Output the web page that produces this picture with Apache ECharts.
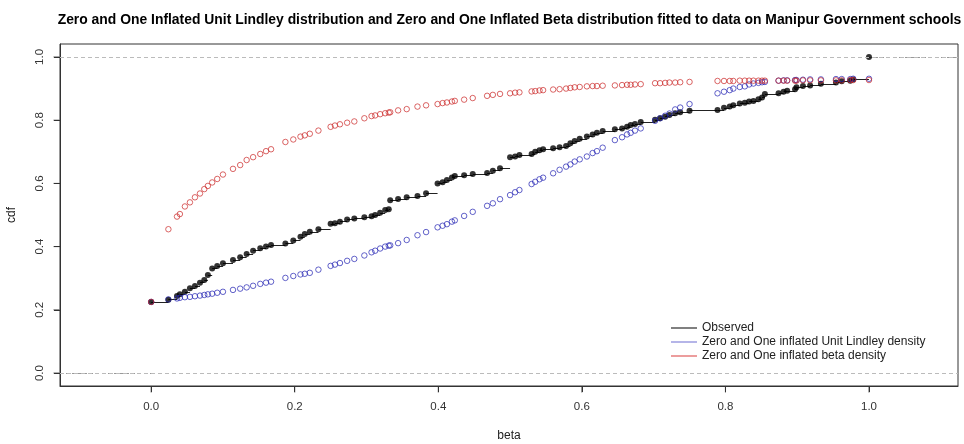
<!DOCTYPE html>
<html><head><meta charset="utf-8">
<script src="https://cdn.jsdelivr.net/npm/echarts@6/dist/echarts.min.js"></script>
<style>html,body{margin:0;padding:0;background:#fff}#c{width:964px;height:444px}</style>
</head><body><div id="c"></div>
<script>
// Observed data points (unique values of beta) and their ECDF values
var obsX = [0, 0.024, 0.036, 0.040, 0.047, 0.054, 0.061, 0.068, 0.074, 0.079, 0.085, 0.092, 0.100, 0.114, 0.124, 0.133, 0.142, 0.152, 0.160, 0.167, 0.187, 0.198, 0.208, 0.214, 0.221, 0.233, 0.250, 0.256, 0.263, 0.273, 0.283, 0.297, 0.307, 0.312, 0.319, 0.326, 0.331, 0.333, 0.344, 0.356, 0.371, 0.383, 0.399, 0.406, 0.412, 0.419, 0.423, 0.436, 0.448, 0.468, 0.476, 0.486, 0.500, 0.507, 0.513, 0.530, 0.535, 0.541, 0.546, 0.560, 0.569, 0.578, 0.584, 0.590, 0.597, 0.607, 0.615, 0.621, 0.629, 0.646, 0.656, 0.663, 0.668, 0.674, 0.682, 0.702, 0.709, 0.716, 0.722, 0.730, 0.737, 0.750, 0.789, 0.798, 0.806, 0.811, 0.820, 0.827, 0.833, 0.839, 0.846, 0.851, 0.855, 0.874, 0.881, 0.886, 0.897, 0.899, 0.908, 0.918, 0.933, 0.954, 0.962, 0.974, 0.978, 1.000];
var obsY = [0.225, 0.232, 0.244, 0.249, 0.257, 0.268, 0.275, 0.286, 0.294, 0.310, 0.331, 0.339, 0.347, 0.358, 0.366, 0.377, 0.387, 0.395, 0.400, 0.405, 0.410, 0.419, 0.431, 0.440, 0.447, 0.455, 0.472, 0.474, 0.479, 0.486, 0.489, 0.493, 0.496, 0.500, 0.507, 0.516, 0.518, 0.547, 0.551, 0.556, 0.560, 0.569, 0.600, 0.604, 0.611, 0.619, 0.623, 0.626, 0.630, 0.633, 0.640, 0.648, 0.683, 0.685, 0.690, 0.693, 0.700, 0.705, 0.708, 0.711, 0.714, 0.718, 0.727, 0.734, 0.741, 0.748, 0.755, 0.760, 0.766, 0.771, 0.774, 0.779, 0.785, 0.788, 0.794, 0.801, 0.806, 0.811, 0.816, 0.822, 0.825, 0.830, 0.832, 0.839, 0.843, 0.847, 0.853, 0.855, 0.859, 0.861, 0.866, 0.872, 0.883, 0.885, 0.890, 0.893, 0.898, 0.904, 0.908, 0.910, 0.915, 0.919, 0.923, 0.925, 0.929, 1.000];
// Zero and One inflated Unit Lindley CDF at the data points
var lindleyY = [0.225, 0.233, 0.236, 0.238, 0.240, 0.241, 0.243, 0.245, 0.247, 0.249, 0.251, 0.254, 0.257, 0.263, 0.267, 0.271, 0.276, 0.282, 0.286, 0.289, 0.301, 0.307, 0.312, 0.314, 0.317, 0.327, 0.339, 0.343, 0.348, 0.355, 0.361, 0.372, 0.382, 0.387, 0.394, 0.400, 0.403, 0.404, 0.411, 0.421, 0.436, 0.446, 0.461, 0.466, 0.471, 0.479, 0.483, 0.497, 0.510, 0.529, 0.537, 0.550, 0.563, 0.572, 0.579, 0.598, 0.605, 0.613, 0.618, 0.632, 0.643, 0.653, 0.660, 0.669, 0.676, 0.685, 0.696, 0.702, 0.713, 0.737, 0.746, 0.755, 0.760, 0.767, 0.774, 0.798, 0.806, 0.814, 0.821, 0.834, 0.840, 0.851, 0.885, 0.890, 0.895, 0.900, 0.905, 0.907, 0.913, 0.916, 0.918, 0.920, 0.921, 0.925, 0.926, 0.926, 0.927, 0.927, 0.928, 0.929, 0.929, 0.930, 0.930, 0.930, 0.931, 0.931];
// Zero and One inflated Beta CDF at the data points
var betaY = [0.225, 0.455, 0.495, 0.503, 0.527, 0.540, 0.556, 0.568, 0.582, 0.592, 0.603, 0.614, 0.628, 0.646, 0.658, 0.674, 0.683, 0.693, 0.702, 0.708, 0.731, 0.739, 0.748, 0.752, 0.757, 0.767, 0.779, 0.783, 0.787, 0.792, 0.796, 0.806, 0.813, 0.815, 0.819, 0.822, 0.824, 0.825, 0.831, 0.835, 0.843, 0.847, 0.851, 0.854, 0.856, 0.859, 0.861, 0.865, 0.870, 0.877, 0.880, 0.883, 0.885, 0.887, 0.888, 0.891, 0.892, 0.894, 0.895, 0.897, 0.898, 0.900, 0.902, 0.904, 0.905, 0.907, 0.908, 0.908, 0.909, 0.910, 0.911, 0.912, 0.912, 0.913, 0.914, 0.917, 0.917, 0.918, 0.919, 0.919, 0.920, 0.921, 0.924, 0.924, 0.924, 0.924, 0.925, 0.925, 0.925, 0.925, 0.925, 0.925, 0.925, 0.925, 0.925, 0.925, 0.925, 0.925, 0.926, 0.926, 0.926, 0.926, 0.926, 0.927, 0.927, 0.927];
var xTicks = [0, 0.2, 0.4, 0.6, 0.8, 1.0];
var yTicks = [0, 0.2, 0.4, 0.6, 0.8, 1.0];
var xRange = [-0.127, 1.124];
var yRange = [-0.041, 1.041];
var names = ['Observed', 'Zero and One inflated Unit Lindley density', 'Zero and One inflated beta density'];
var legendColors = ['#000000', '#6a6ad0', '#d83a3a'];
var titleText = 'Zero and One Inflated Unit Lindley distribution and Zero and One Inflated Beta distribution fitted to data on Manipur Government schools';

var BLUE = '#2626b4', RED = '#cc2a2a';
var steps = [];
for (var i = 0; i < obsX.length - 1; i++) {
  steps.push({coords: [[obsX[i], obsY[i]], [obsX[i + 1], obsY[i]]]});
}
var ext = [
  {coords: [[xRange[0], 0], [obsX[0], 0]]},
  {coords: [[obsX[obsX.length - 1], obsY[obsY.length - 1]], [xRange[1], obsY[obsY.length - 1]]]}
];
function pairs(ys) { return obsX.map(function (x, i) { return [x, ys[i]]; }); }
var fmt = function (v) { return v.toFixed(1); };
var tickStyle = {color: '#333', width: 1};

var chart = echarts.init(document.getElementById('c'), null, {renderer: 'canvas'});
chart.setOption({
  animation: false,
  backgroundColor: '#fff',
  title: {
    text: titleText, left: 504.5, top: 8, textAlign: 'center',
    textStyle: {fontFamily: 'Liberation Sans', fontWeight: 'bold', fontSize: 13.9, color: '#000'}
  },
  grid: {left: 60, right: 6, top: 44, bottom: 58, show: true, borderColor: '#333', borderWidth: 1,
         backgroundColor: 'transparent', containLabel: false, outerBoundsMode: 'none'},
  legend: {
    orient: 'vertical', left: 666, top: 316, itemWidth: 26, itemHeight: 1, itemGap: 0, selectedMode: false,
    textStyle: {fontFamily: 'Liberation Sans', fontSize: 12, color: '#222', lineHeight: 14},
    data: names.map(function (n, k) {
      return {name: n, icon: 'rect', itemStyle: {color: legendColors[k], borderWidth: 0, opacity: 1}};
    })
  },
  xAxis: {
    type: 'value', min: xRange[0], max: xRange[1], position: 'bottom',
    name: 'beta', nameLocation: 'middle', nameGap: 44,
    nameTextStyle: {fontFamily: 'Liberation Sans', fontSize: 12, color: '#222'},
    axisLine: {show: true, onZero: false, lineStyle: {color: '#333', width: 1}}, splitLine: {show: false},
    axisTick: {show: true, inside: false, length: 6, customValues: xTicks, lineStyle: tickStyle},
    axisLabel: {customValues: xTicks, formatter: fmt, margin: 15, fontFamily: 'Liberation Sans', fontSize: 11.5, color: '#333'}
  },
  yAxis: {
    type: 'value', min: yRange[0], max: yRange[1], position: 'left',
    name: 'cdf', nameLocation: 'middle', nameGap: 42, nameRotate: 90,
    nameTextStyle: {fontFamily: 'Liberation Sans', fontSize: 12, color: '#222'},
    axisLine: {show: true, onZero: false, lineStyle: {color: '#333', width: 1}}, splitLine: {show: false},
    axisTick: {show: true, inside: false, length: 6, customValues: yTicks, lineStyle: tickStyle},
    axisLabel: {customValues: yTicks, formatter: fmt, rotate: 90, margin: 14, fontFamily: 'Liberation Sans', fontSize: 11.5, color: '#333'}
  },
  series: [
    {
      type: 'lines', name: 'ext', coordinateSystem: 'cartesian2d', silent: true,
      lineStyle: {color: '#333', width: 1, type: [3, 3]}, data: ext, z: 1
    },
    {
      type: 'scatter', name: 'guides', data: [], silent: true,
      markLine: {silent: true, symbol: 'none', label: {show: false},
        lineStyle: {color: '#bbbbbb', type: [4, 3], width: 1},
        data: [{yAxis: 0}, {yAxis: 1}]}, z: 0
    },
    {
      // tick marks below the x axis, placed through the axis scale
      type: 'scatter', name: 'xTickMarks', silent: true, clip: false, z: 10,
      data: xTicks.map(function (v) { return [v, yRange[0]]; }),
      symbol: 'rect', symbolSize: [1, 6], symbolOffset: [0, 3.5],
      itemStyle: {color: '#333', borderWidth: 0}
    },
    {
      // tick marks left of the y axis, placed through the axis scale
      type: 'scatter', name: 'yTickMarks', silent: true, clip: false, z: 10,
      data: yTicks.map(function (v) { return [xRange[0], v]; }),
      symbol: 'rect', symbolSize: [6, 1], symbolOffset: [-3.5, 0],
      itemStyle: {color: '#333', borderWidth: 0}
    },
    {
      type: 'lines', name: names[0], coordinateSystem: 'cartesian2d', silent: true,
      lineStyle: {color: '#222', width: 1, opacity: 1}, data: steps, z: 2
    },
    {
      type: 'scatter', name: 'obsPts', data: pairs(obsY), symbol: 'circle', symbolSize: 6,
      itemStyle: {color: '#000'}, z: 3, silent: true
    },
    {
      type: 'scatter', name: names[1], data: pairs(lindleyY), symbol: 'circle', symbolSize: 5.5,
      itemStyle: {color: 'rgba(0,0,0,0)', borderColor: BLUE, borderWidth: 0.9}, z: 4, silent: true
    },
    {
      type: 'scatter', name: names[2], data: pairs(betaY), symbol: 'circle', symbolSize: 5.5,
      itemStyle: {color: 'rgba(0,0,0,0)', borderColor: RED, borderWidth: 0.9}, z: 5, silent: true
    }
  ]
});
</script></body></html>
